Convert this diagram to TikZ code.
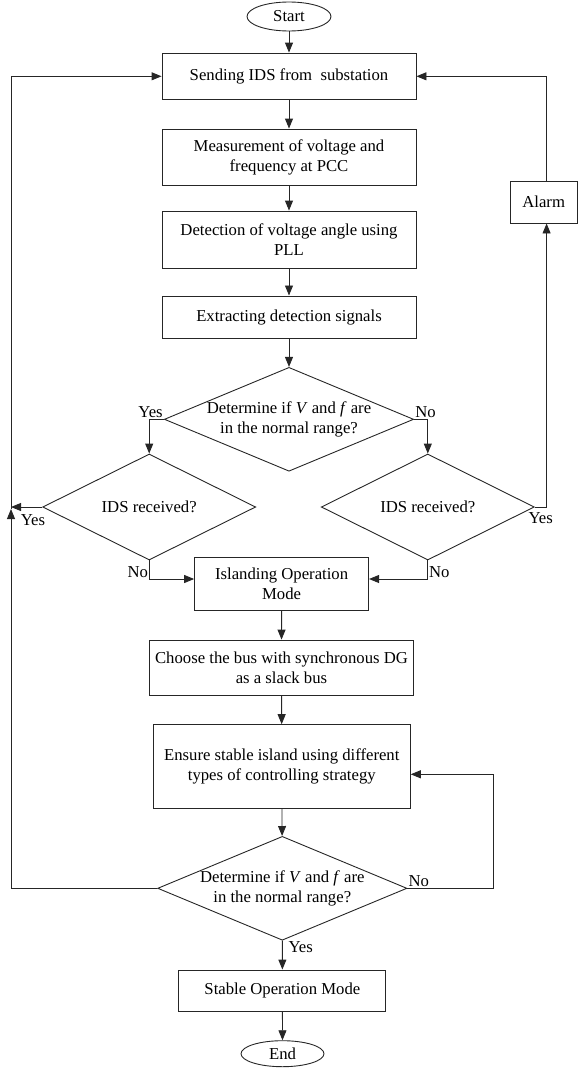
\documentclass[tikz,border=0pt]{standalone}
\usepackage{fontspec}
\setmainfont{Liberation Serif}
\usetikzlibrary{shapes.geometric,arrows.meta}

\begin{document}
\begin{tikzpicture}[x=1pt,y=-1pt,
		font=\fontsize{16.7}{20}\selectfont,
		flow/.style={draw=black!85, line width=0.9pt},
		arr/.style={flow, -{Triangle[length=10pt,width=8pt]}},
		box/.style={draw=black!85, line width=0.9pt, rectangle, inner sep=0pt, align=center},
		term/.style={draw=black!85, line width=0.9pt, ellipse, inner sep=0pt},
		test/.style={draw=black!85, line width=0.9pt, diamond, inner sep=0pt, aspect=2.4, align=center},
		lbl/.style={inner sep=1pt}]
	\useasboundingbox (0,0) rectangle (578,1068);
	\node[term, minimum width=84pt, minimum height=29pt] (start) at (289,16.5) {Start};
	\node[box, minimum width=254pt, minimum height=46.5pt] (ids) at (289,76.3) {Sending IDS from\ \ substation};
	\node[box, minimum width=254pt, minimum height=56pt] (meas) at (289,157) {Measurement of voltage and\\frequency at PCC};
	\node[box, minimum width=254pt, minimum height=57pt] (pll) at (289,239.5) {Detection of voltage angle using\\PLL};
	\node[box, minimum width=254pt, minimum height=42.7pt] (extr) at (289,317.3) {Extracting detection signals};
	\node[test, minimum width=248pt, minimum height=103pt] (chk) at (289,419.3) {Determine if \textit{V} and \textit{f} are\\in the normal range?};
	\node[test, minimum width=213pt, minimum height=106pt] (rxl) at (149.2,507) {IDS received?};
	\node[test, minimum width=213pt, minimum height=106pt] (rxr) at (427.8,507) {IDS received?};
	\node[box, minimum width=67.5pt, minimum height=42pt] (alarm) at (543.7,202) {Alarm};
	\node[box, minimum width=174pt, minimum height=53.4pt] (isl) at (281.6,584) {Islanding Operation\\Mode};
	\node[box, minimum width=264.3pt, minimum height=55.3pt] (slack) at (281.5,667.7) {Choose the bus with synchronous DG\\as a slack bus};
	\node[box, minimum width=257pt, minimum height=83.3pt] (ctrl) at (281.8,766.3) {Ensure stable island using different\\types of controlling strategy};
	\node[test, minimum width=248pt, minimum height=103pt] (chk2) at (282.3,888.3) {Determine if \textit{V} and \textit{f} are\\in the normal range?};
	\node[box, minimum width=207pt, minimum height=41pt] (stable) at (282.4,990.5) {Stable Operation Mode};
	\node[term, minimum width=83pt, minimum height=26pt] (end) at (282.5,1053.7) {End};

	\coordinate (lp) at (11,509);
	\coordinate (rt) at (546.6,0);
	\coordinate (rl) at (493,0);
	\coordinate (jn) at ([yshift=5pt]isl.west);
	\coordinate (jn2) at ([yshift=5pt]isl.east);

	\draw[arr] (start) -- (ids);
	\draw[arr] (ids) -- (meas);
	\draw[arr] (meas) -- (pll);
	\draw[arr] (pll) -- (extr);
	\draw[arr] (extr) -- (chk);
	\draw[arr] (chk.west) -| (rxl.north);
	\draw[arr] (chk.east) -| (rxr.north);
	\draw[arr] (rxl.west) -- (rxl.west -| lp);
	\draw[arr] (rxr.east) -| (rt |- alarm.south);
	\draw[arr] (rt |- alarm.north) |- (ids.east);
	\draw[arr] (rxl.south) |- (jn);
	\draw[arr] (rxr.south) |- (jn2);
	\draw[arr] (isl) -- (slack);
	\draw[arr] (slack) -- (ctrl);
	\draw[arr] (ctrl) -- (chk2);
	\draw[arr] (chk2.east) -- (chk2.east -| rl) |- ([yshift=-8pt]ctrl.east);
	\draw[arr] (chk2.west) -| (lp);
	\draw[arr] (lp) |- (ids.west);
	\draw[arr] (chk2) -- (stable);
	\draw[arr] (stable) -- (end);

	\node[lbl, anchor=south east] at (chk.west) {Yes};
	\node[lbl, anchor=south west] at (chk.east) {No};
	\node[lbl, anchor=north east] at ([xshift=4pt,yshift=-6pt]rxl.west) {Yes};
	\node[lbl, anchor=north] at ([xshift=6pt,yshift=-4pt]rxr.east) {Yes};
	\node[lbl, anchor=south east] at (jn -| rxl.south) {No};
	\node[lbl, anchor=south west] at (jn2 -| rxr.south) {No};
	\node[lbl, anchor=south west] at (chk2.east) {No};
	\node[lbl, anchor=north west] at ([xshift=5pt]chk2.south) {Yes};
\end{tikzpicture}
\end{document}
